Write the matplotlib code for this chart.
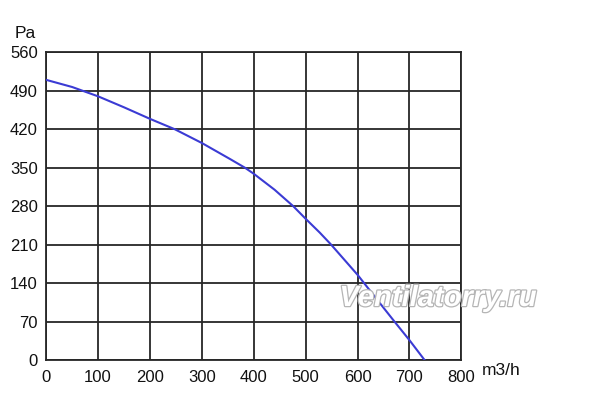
import numpy as np
import matplotlib
matplotlib.use("Agg")
import matplotlib.pyplot as plt
import matplotlib.patheffects as pe

plt.rcParams['font.family'] = ['Liberation Sans', 'DejaVu Sans']

# airflow (m3/h) vs pressure (Pa)
flow = [0, 50, 100, 150, 200, 248, 300, 354, 383, 400, 440, 476, 500, 527, 549, 600, 640, 671, 700, 729]
pressure = [510, 497, 480, 460, 439, 420, 395, 366, 350, 339, 310, 280, 257, 232, 210, 155, 107, 70, 36, 0]

x_ticks = [0, 100, 200, 300, 400, 500, 600, 700, 800]
y_ticks = [0, 70, 140, 210, 280, 350, 420, 490, 560]

fig = plt.figure(figsize=(6, 4), dpi=100)
ax = fig.add_axes([0.077, 0.1, 0.692, 0.769])

ax.plot(flow, pressure, color="#3b3bd4", lw=1.5, zorder=3, solid_joinstyle="round")

ax.set_xlim(0, 800)
ax.set_ylim(0, 560)
ax.set_xticks(x_ticks)
ax.set_yticks(y_ticks)
ax.grid(True, color="#262626", lw=1.3)
for s in ax.spines.values():
    s.set_color("#262626")
    s.set_linewidth(1.3)
ax.tick_params(axis="x", length=0, labelsize=12, pad=7, colors="#111111")
ax.tick_params(axis="y", length=0, labelsize=12, pad=6, colors="#111111")

fig.text(0.025, 0.905, "Pa", fontsize=12.5, color="#111111")
fig.text(0.803, 0.062, "m3/h", fontsize=12.5, color="#111111")

# watermark
fig.text(0.73, 0.255, "Ventilatorry.ru", fontsize=21, style="italic", weight="bold",
         color="white", ha="center", va="center", zorder=10,
         path_effects=[pe.withStroke(linewidth=1.8, foreground="#b5b5b5")])

fig.savefig("out.png", dpi=100)
